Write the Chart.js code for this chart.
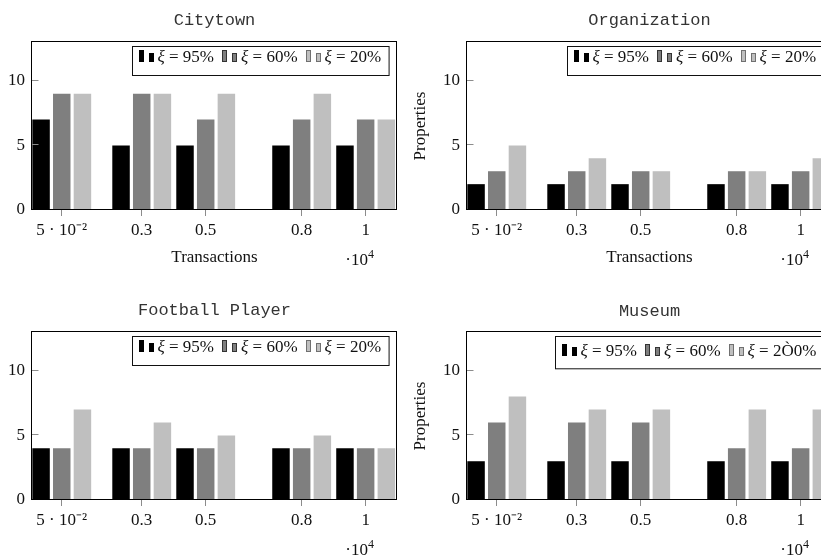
<!DOCTYPE html>
<html><head><meta charset="utf-8">
<script src="https://cdn.jsdelivr.net/npm/chart.js@4"></script>
<style>
html,body{margin:0;padding:0;width:821px;height:560px;overflow:hidden;background:#fff}
.panel{position:absolute;overflow:hidden}
canvas{display:block}
</style></head><body>
<div class="panel" style="left:0;top:0;width:410px;height:290px"><canvas id="c0" width="410" height="290" style="width:410px;height:290px"></canvas></div>
<div class="panel" style="left:410px;top:0;width:411px;height:290px"><canvas id="c1" width="440" height="290" style="width:440px;height:290px"></canvas></div>
<div class="panel" style="left:0;top:290px;width:410px;height:270px"><canvas id="c2" width="410" height="270" style="width:410px;height:270px"></canvas></div>
<div class="panel" style="left:410px;top:290px;width:411px;height:270px"><canvas id="c3" width="440" height="270" style="width:440px;height:270px"></canvas></div>
<script>
// ---- data ----
const transactions = [0.05, 0.3, 0.5, 0.8, 1];          // ·10^4
const xTickLabels = ['5 · 10⁻²', '0.3', '0.5', '0.8', '1'];
const yTickValues = [0, 5, 10];
const xScaleNote = ['·10', '4'];
const xAxisTitle = 'Transactions';
const yAxisTitle = 'Properties';
const legendLabels = ['95%', '60%', '20%'];
const museumLegendLabels = ['95%', '60%', '2Ò0%'];

const citytown95 = [7, 5, 5, 5, 5];
const citytown60 = [9, 9, 7, 7, 7];
const citytown20 = [9, 9, 9, 9, 7];

const organization95 = [2, 2, 2, 2, 2];
const organization60 = [3, 3, 3, 3, 3];
const organization20 = [5, 4, 3, 3, 4];

const football95 = [4, 4, 4, 4, 4];
const football60 = [4, 4, 4, 4, 4];
const football20 = [7, 6, 5, 5, 4];

const museum95 = [3, 3, 3, 3, 3];
const museum60 = [6, 6, 6, 4, 4];
const museum20 = [8, 7, 7, 7, 7];

// ---- style ----
const COLORS = ['#000000', '#7f7f7f', '#bfbfbf'];
const ICON_STROKES = ['#000000', '#333333', '#707070'];
const SERIF = '"Liberation Serif", "Times New Roman", serif';
const MONO = '"Liberation Mono", "Courier New", monospace';

const decoPlugin = {
  id: 'deco',
  afterDraw(chart, args, o) {
    const ctx = chart.ctx, a = chart.chartArea;
    const L = Math.round(a.left) - 0.5, T = Math.round(a.top) - 0.5;
    const R = Math.round(a.right) - 0.5, B = Math.round(a.bottom) - 0.5;
    ctx.save();
    // inner y tick marks
    ctx.lineWidth = 1;
    ctx.strokeStyle = '#8c8c8c';
    const ys = chart.scales.y;
    yTickValues.forEach(v => {
      if (v === 0) return;
      const py = Math.round(ys.getPixelForValue(v)) - 0.5;
      ctx.beginPath(); ctx.moveTo(L, py); ctx.lineTo(L + 7, py); ctx.stroke();
    });
    // frame
    ctx.strokeStyle = '#000';
    ctx.strokeRect(L, T, R - L, B - T);

    // title
    ctx.font = '17px ' + MONO;
    ctx.fillStyle = '#333';
    ctx.textAlign = 'center';
    ctx.textBaseline = 'alphabetic';
    const tm = ctx.measureText(o.title);
    const tBase = 20 + (tm.actualBoundingBoxAscent - tm.actualBoundingBoxDescent) / 2;
    ctx.fillText(o.title, (a.left + a.right) / 2, tBase);

    // legend
    const labels = o.legendLabels;
    const fUp = '17px ' + SERIF, fIt = 'italic 17px ' + SERIF;
    let maxAsc = 0;
    const ents = labels.map(l => {
      ctx.font = fIt; const mx = ctx.measureText('ξ');
      ctx.font = fUp; const rest = ' = ' + l; const mr = ctx.measureText(rest);
      maxAsc = Math.max(maxAsc, mr.actualBoundingBoxAscent, 11.7);
      return { rest, wx: mx.width, wr: mr.width };
    });
    const padL = 6, iconW = 15, iconGap = 4, entryGap = 8, padR = 8;
    let total = padL + padR + entryGap * (ents.length - 1);
    ents.forEach(e => { total += iconW + iconGap + e.wx + e.wr; });
    const bx = Math.round(a.right - 8 - total) + 0.5;
    const by = Math.round(a.top + 4) + 0.5;
    const base = by + 4 + maxAsc;
    const bh = base + 13.3 - by;
    ctx.fillStyle = '#fff';
    ctx.fillRect(bx, by, total, bh);
    ctx.strokeStyle = '#111';
    ctx.strokeRect(bx, by, total, bh);
    let x = bx + padL;
    ents.forEach((e, i) => {
      ctx.fillStyle = COLORS[i];
      ctx.strokeStyle = ICON_STROKES[i];
      const b0 = Math.round(base);
      ctx.fillRect(Math.round(x), b0 - 12, 5, 12);
      ctx.strokeRect(Math.round(x) + 0.5, b0 - 11.5, 4, 11);
      ctx.fillRect(Math.round(x) + 10, b0 - 9, 5, 9);
      ctx.strokeRect(Math.round(x) + 10.5, b0 - 8.5, 4, 8);
      x += iconW + iconGap;
      ctx.fillStyle = '#111';
      ctx.textAlign = 'left';
      ctx.font = fIt; ctx.fillText('ξ', x, base); x += e.wx;
      ctx.font = fUp; ctx.fillText(e.rest, x, base); x += e.wr;
      x += entryGap;
    });

    // scale note ·10^4
    ctx.fillStyle = '#111';
    ctx.textAlign = 'left';
    ctx.font = '17px ' + SERIF; const w1 = ctx.measureText(xScaleNote[0]).width;
    ctx.font = '12px ' + SERIF; const w2 = ctx.measureText(xScaleNote[1]).width;
    const nx = a.right - 23 - w1 - w2, ny = a.bottom + 55;
    ctx.font = '17px ' + SERIF; ctx.fillText(xScaleNote[0], nx, ny);
    ctx.font = '12px ' + SERIF; ctx.fillText(xScaleNote[1], nx + w1, ny - 7);
    ctx.restore();
  }
};

function makeChart(id, title, series, labels, opt) {
  const canvas = document.getElementById(id);
  return new Chart(canvas, {
    type: 'bar',
    data: {
      datasets: series.map((s, i) => ({
        label: 'ξ = ' + labels[i],
        data: transactions.map((xv, j) => ({ x: xv, y: s[j] })),
        backgroundColor: COLORS[i],
        borderWidth: 0,
        categoryPercentage: 0.97,
        barPercentage: 0.845
      }))
    },
    plugins: [decoPlugin],
    options: {
      responsive: false,
      animation: false,
      devicePixelRatio: 1,
      layout: { padding: { top: 42, right: opt.padRight, left: 0, bottom: 0 } },
      plugins: {
        legend: { display: false },
        tooltip: { enabled: false },
        deco: { title, legendLabels: labels }
      },
      scales: {
        x: {
          type: 'linear', min: -0.043, max: 1.098, offset: false,
          afterBuildTicks: s => { s.ticks = transactions.map(v => ({ value: v })); },
          afterFit: s => { s.height = opt.xAxisHeight; },
          ticks: {
            callback: (v, i) => xTickLabels[i],
            autoSkip: false, maxRotation: 0, minRotation: 0, padding: 4,
            color: '#111', font: { family: SERIF, size: 17 }
          },
          grid: { display: true, offset: false, drawOnChartArea: false, drawTicks: true, tickLength: 6,
                  color: '#8c8c8c', tickColor: '#8c8c8c', tickWidth: 1 },
          border: { display: false },
          title: { display: opt.showXTitle, text: xAxisTitle, color: '#111',
                   font: { family: SERIF, size: 17 }, padding: { top: 0, bottom: 22.5 } }
        },
        y: {
          min: 0, max: 13,
          afterBuildTicks: s => { s.ticks = yTickValues.map(v => ({ value: v })); },
          afterFit: s => { s.width = opt.yAxisWidth; },
          ticks: { padding: 7, color: '#111', font: { family: SERIF, size: 17 } },
          grid: { display: false, drawTicks: false },
          border: { display: false },
          title: { display: opt.showYTitle, text: yAxisTitle, color: '#111',
                   font: { family: SERIF, size: 17 }, padding: { top: 0, bottom: 0 } }
        }
      }
    }
  });
}

makeChart('c0', 'Citytown', [citytown95, citytown60, citytown20], legendLabels,
  { padRight: 13, xAxisHeight: 80, yAxisWidth: 32, showXTitle: true, showYTitle: false });
makeChart('c1', 'Organization', [organization95, organization60, organization20], legendLabels,
  { padRight: 18, xAxisHeight: 80, yAxisWidth: 57, showXTitle: true, showYTitle: true });
makeChart('c2', 'Football Player', [football95, football60, football20], legendLabels,
  { padRight: 13, xAxisHeight: 60, yAxisWidth: 32, showXTitle: false, showYTitle: false });
makeChart('c3', 'Museum', [museum95, museum60, museum20], museumLegendLabels,
  { padRight: 18, xAxisHeight: 60, yAxisWidth: 57, showXTitle: false, showYTitle: true });
</script>
</body></html>
